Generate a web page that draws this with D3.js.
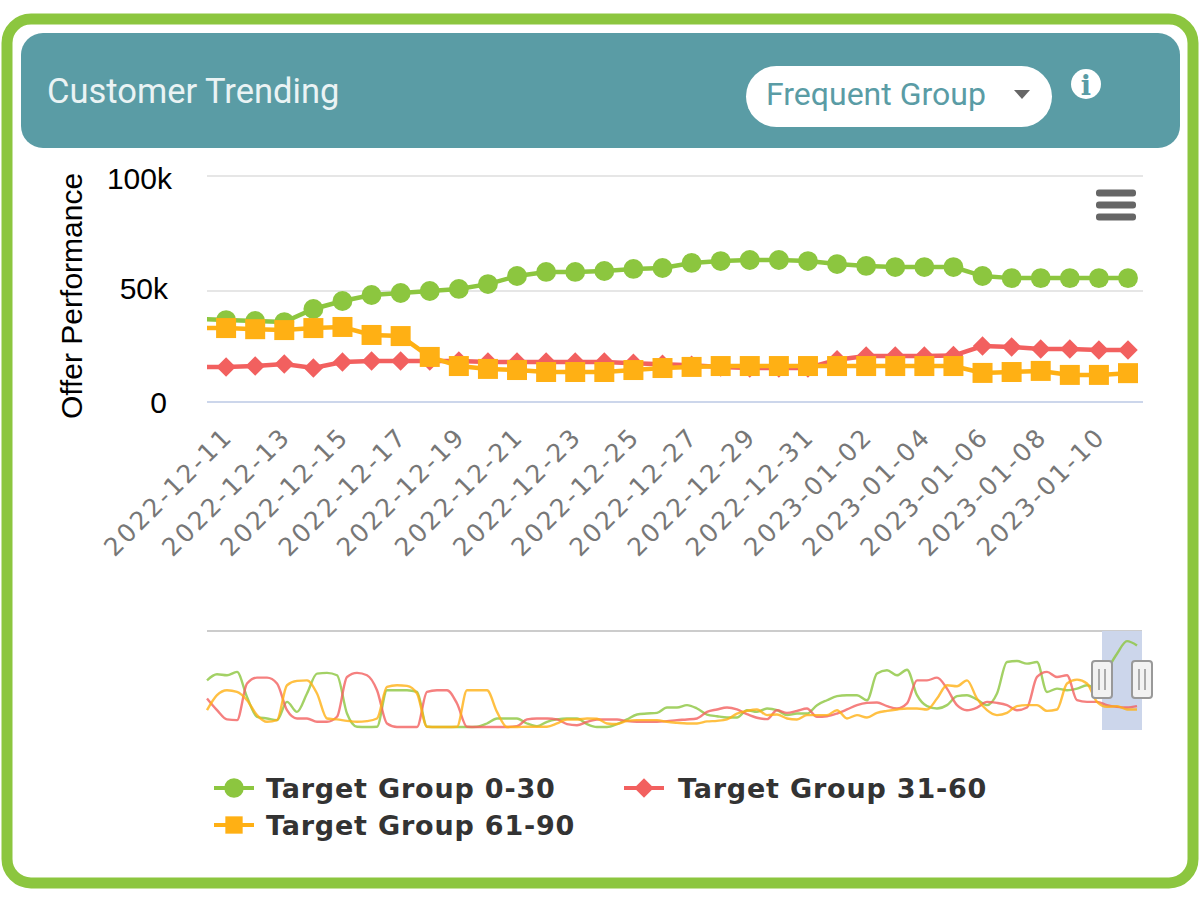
<!DOCTYPE html>
<html>
<head>
<meta charset="utf-8">
<script src="https://cdn.jsdelivr.net/npm/d3@7"></script>
<style>
  html, body { margin: 0; padding: 0; background: #fff; }
  svg { display: block; }
</style>
</head>
<body>
<div id="chart"></div>
<script>
// main chart, one value per day (thousands). First entry sits left of the plot and gets clipped
var dates = ["2022-12-10","2022-12-11","2022-12-12","2022-12-13","2022-12-14","2022-12-15","2022-12-16","2022-12-17","2022-12-18","2022-12-19","2022-12-20","2022-12-21","2022-12-22","2022-12-23","2022-12-24","2022-12-25","2022-12-26","2022-12-27","2022-12-28","2022-12-29","2022-12-30","2022-12-31","2023-01-01","2023-01-02","2023-01-03","2023-01-04","2023-01-05","2023-01-06","2023-01-07","2023-01-08","2023-01-09","2023-01-10","2023-01-11"];
var tickDates = ["2022-12-11","2022-12-13","2022-12-15","2022-12-17","2022-12-19","2022-12-21","2022-12-23","2022-12-25","2022-12-27","2022-12-29","2022-12-31","2023-01-02","2023-01-04","2023-01-06","2023-01-08","2023-01-10"];
var group0to30 = [37.5,36.9,36.5,36,41.9,45.5,48.2,49.1,50,50.9,53,56.5,58.3,58.3,58.7,59.6,60,62.2,63,63.5,63.5,63,61.7,60.9,60.4,60.4,60.4,56.5,55.6,55.6,55.6,55.6,55.6];
var group31to60 = [15.8,15.8,16.2,17.1,15.3,18,18.5,18.5,18.5,18.5,18,18,18,18,18,17.5,17,16.5,15.8,15.3,15.3,15.3,19,20.7,20.7,20.7,20.9,25.2,24.8,23.9,23.9,23.4,23.4];
var group61to90 = [33.3,33.3,32.8,32.4,33.3,33.8,30.2,29.7,20.3,16.2,14.9,14.4,13.5,13.5,13.5,14.4,15.3,15.8,16.2,16.2,16.2,16.2,16.2,16.2,16.2,16.2,16.2,13.1,13.5,14,12.2,12.2,13];
var yTicks = [0, 50, 100];

// navigator, evenly spaced samples over the whole history (thousands)
var navGreen = [33.3,37.6,36.9,39.3,21.5,7.3,6.1,4.9,17.9,10.8,23.9,38.1,38.6,36.9,9.6,0.2,0,0.2,26.2,26.2,26.2,25,0.2,0,0,0,0,0.2,2.5,6.1,6.1,6.1,2.5,0.6,3.7,5.4,6.1,6.1,2.1,0,0,2.1,5.4,8.9,9.6,10.1,13.9,13.9,15.6,13.2,8.9,7.7,6.8,6.8,12,10.8,13.2,12,8.5,9.6,9.6,15.6,19.1,22,22.7,22.7,19.1,38.1,40.5,36.9,40.9,22.7,14.9,13.2,15.6,22,22.7,19.6,15.6,23.9,46.4,47.1,45.2,46.4,25,27.4,26.2,27.4,29.8,27.4,40.5,52.3,61.3,58.2];
var navRed = [20.3,12,5.4,4.9,31,35.2,35.2,31,12,6.1,6.1,3.7,3.7,7.3,35.7,38.6,36.9,26.2,2.5,0,0,0,25,26.2,26.2,16.8,0.2,0,0,0,0,0.6,5.4,6.1,6.1,5.4,2.1,1.3,3.7,5.4,5.4,5.4,4.2,3.7,3.7,3.7,4.2,4.9,5.4,6.1,10.8,12.5,13.9,12.5,9.2,6.6,5.6,12,10.1,11.5,13.2,7.3,7.7,9.6,12.5,15.6,17.2,17.5,14.9,13.2,16.8,33.3,33.3,35.2,27.4,15.6,12,13.9,17.9,17.2,15.6,12,13.9,35.7,39.3,35.7,36.9,19.1,17.9,17.9,15.6,14.4,13.9,14.9];
var navOrange = [12,22.7,26.2,25,19.1,8.5,3.7,4.9,29.8,32.9,33.3,23.9,6.1,5.4,4.4,3.7,4.2,6.1,28.6,29.8,29.3,23.9,0.2,0,0,0.2,26.2,26.2,26.2,10.8,0,0,0.2,0.2,0.2,2.5,5.4,5.4,6.1,5.9,2.5,2.1,4.4,4.9,4.9,4.9,3.7,3,2.5,2.5,4,4.4,5.4,9.6,11.5,12.5,8.5,8.9,6.1,5.4,8.5,8.5,8.5,12,6.1,8.5,6.8,10.1,11.5,12.5,13.2,13.2,12.5,20.3,29.8,29.1,33.3,20.3,12,8.5,10.1,14.9,15.6,15.6,11.5,12.5,31,33.8,31,17.9,14.4,14.9,12.5,12.5];
var navWindow = [89.5, 93.5]; // selected range, in sample positions

var legendLabels = ["Target Group 0-30", "Target Group 31-60", "Target Group 61-90"];

var green = "#8cc63f", red = "#f2605f", orange = "#ffb014", teal = "#5a9ca5";

// rotated square, d3.symbolDiamond is too narrow for this chart
var rhombus = {
  draw: function(context, size) {
    var r = Math.sqrt(size / 2);
    context.moveTo(0, -r);
    context.lineTo(r, 0);
    context.lineTo(0, r);
    context.lineTo(-r, 0);
    context.closePath();
  }
};

var svg = d3.select("#chart").append("svg")
  .attr("width", 1200)
  .attr("height", 900);

// card + header
svg.append("rect").attr("x", 7).attr("y", 19).attr("width", 1186).attr("height", 864)
  .attr("rx", 24).attr("fill", "#fff").attr("stroke", green).attr("stroke-width", 11);
svg.append("rect").attr("x", 21).attr("y", 33).attr("width", 1159).attr("height", 115)
  .attr("rx", 22).attr("fill", teal);
svg.append("text").attr("x", 47).attr("y", 103).text("Customer Trending")
  .attr("font-family", "Roboto").attr("font-size", "34.5px").attr("fill", "#eaf3f4");

// dropdown
svg.append("rect").attr("x", 746).attr("y", 66).attr("width", 306).attr("height", 61)
  .attr("rx", 30.5).attr("fill", "#fff");
svg.append("text").attr("x", 766).attr("y", 105).text("Frequent Group")
  .attr("font-family", "Roboto").attr("font-size", "32px").attr("fill", teal);
svg.append("path").attr("d", "M1014,90 L1030,90 L1022,99 Z").attr("fill", "#666");

// info icon
svg.append("circle").attr("cx", 1086).attr("cy", 84).attr("r", 15).attr("fill", "#fff");
svg.append("text").attr("x", 1086).attr("y", 95).attr("text-anchor", "middle").text("i")
  .attr("font-family", "DejaVu Serif").attr("font-weight", "bold").attr("font-size", "27px").attr("fill", teal);

// main plot
var plot = {left: 207, right: 1143, top: 176, bottom: 402};
var x = d3.scalePoint().domain(dates).range([197, 1128]);
var y = d3.scaleLinear().domain([0, 50, 100]).range([402, 291, 176]);

svg.append("defs").append("clipPath").attr("id", "plotClip").append("rect")
  .attr("x", plot.left).attr("y", plot.top - 10)
  .attr("width", plot.right - plot.left).attr("height", plot.bottom - plot.top + 20);

// grid
svg.selectAll(".grid").data(yTicks).enter().append("line")
  .attr("class", "grid")
  .attr("x1", plot.left).attr("x2", plot.right)
  .attr("y1", d => y(d)).attr("y2", d => y(d))
  .attr("stroke", d => d === 0 ? "#ccd6eb" : "#e6e6e6")
  .attr("stroke-width", 2);

// y labels
var yLabelNudge = {0: [167, 11], 50: [168, 8], 100: [172, 13]};
svg.selectAll(".ylab").data(yTicks).enter().append("text")
  .attr("class", "ylab")
  .attr("x", d => yLabelNudge[d][0])
  .attr("y", d => y(d) + yLabelNudge[d][1])
  .attr("text-anchor", "end")
  .attr("font-family", "Liberation Sans").attr("font-size", "30px").attr("fill", "#000")
  .text(d => d === 0 ? "0" : d + "k");
svg.append("text")
  .attr("transform", "translate(82,296) rotate(-90)")
  .attr("text-anchor", "middle")
  .attr("font-family", "Liberation Sans").attr("font-size", "30px").attr("fill", "#000")
  .text("Offer Performance");

// x labels
svg.selectAll(".xlab").data(tickDates).enter().append("text")
  .attr("class", "xlab")
  .attr("transform", d => "translate(" + (x(d) + 8) + ",438) rotate(-45)")
  .attr("text-anchor", "end")
  .attr("font-family", "DejaVu Sans").attr("font-size", "25px")
  .attr("letter-spacing", "2.4px").attr("fill", "#777")
  .text(d => d);

// series
var series = [
  {values: group0to30, color: green, shape: d3.symbolCircle, size: 310},
  {values: group31to60, color: red, shape: rhombus, size: 190},
  {values: group61to90, color: orange, shape: d3.symbolSquare, size: 400}
];
var line = d3.line().x((d, i) => x(dates[i])).y(d => y(d));
var plotG = svg.append("g").attr("clip-path", "url(#plotClip)");
series.forEach(function(s) {
  plotG.append("path").attr("d", line(s.values))
    .attr("fill", "none").attr("stroke", s.color).attr("stroke-width", 4.5);
  plotG.selectAll(null).data(s.values).enter().append("path")
    .attr("d", d3.symbol().type(s.shape).size(s.size))
    .attr("transform", (d, i) => "translate(" + x(dates[i]) + "," + y(d) + ")")
    .attr("fill", s.color);
});

// context menu icon
svg.selectAll(".burger").data([193, 205, 217]).enter().append("rect")
  .attr("x", 1096).attr("y", d => d - 3.5).attr("width", 40).attr("height", 7).attr("rx", 3)
  .attr("fill", "#666");

// navigator
var navX = d3.scaleLinear().domain([0, 93]).range([207, 1137]);
var navY = d3.scaleLinear().domain([0, 63.5]).range([727, 638]);
svg.append("line").attr("x1", 207).attr("x2", 1142).attr("y1", 631).attr("y2", 631)
  .attr("stroke", "#ccc").attr("stroke-width", 2);
svg.append("rect")
  .attr("x", navX(navWindow[0])).attr("y", 631)
  .attr("width", navX(navWindow[1]) - navX(navWindow[0])).attr("height", 99)
  .attr("fill", "#ccd6eb");
var navLine = d3.line().x((d, i) => navX(i)).y(d => navY(d)).curve(d3.curveMonotoneX);
[[navGreen, green], [navRed, red], [navOrange, orange]].forEach(function(s) {
  svg.append("path").attr("d", navLine(s[0]))
    .attr("fill", "none").attr("stroke", s[1]).attr("stroke-width", 2.4).attr("opacity", 0.8);
});
navWindow.forEach(function(w) {
  var hx = navX(w);
  svg.append("rect").attr("x", hx - 10).attr("y", 661).attr("width", 20).attr("height", 37)
    .attr("rx", 3).attr("fill", "#f2f2f2").attr("stroke", "#999").attr("stroke-width", 2);
  [-3, 3].forEach(function(o) {
    svg.append("line").attr("x1", hx + o).attr("x2", hx + o).attr("y1", 669).attr("y2", 690)
      .attr("stroke", "#999").attr("stroke-width", 1.6);
  });
});

// legend
var legendPos = [[214, 788], [624, 788], [214, 825]];
var shapes = [d3.symbolCircle, rhombus, d3.symbolSquare];
var colors = [green, red, orange];
legendLabels.forEach(function(label, i) {
  var g = svg.append("g").attr("transform", "translate(" + legendPos[i][0] + "," + legendPos[i][1] + ")");
  g.append("line").attr("x1", 0).attr("x2", 40).attr("stroke", colors[i]).attr("stroke-width", 4);
  g.append("path").attr("d", d3.symbol().type(shapes[i]).size(i === 1 ? 190 : 300))
    .attr("transform", "translate(20,0)").attr("fill", colors[i]);
  g.append("text").attr("x", i === 1 ? 54 : 52).attr("y", 10).text(label)
    .attr("font-family", "DejaVu Sans").attr("font-weight", "bold")
    .attr("font-size", "27px").attr("letter-spacing", "0.8px").attr("fill", "#333");
});
</script>
</body>
</html>
